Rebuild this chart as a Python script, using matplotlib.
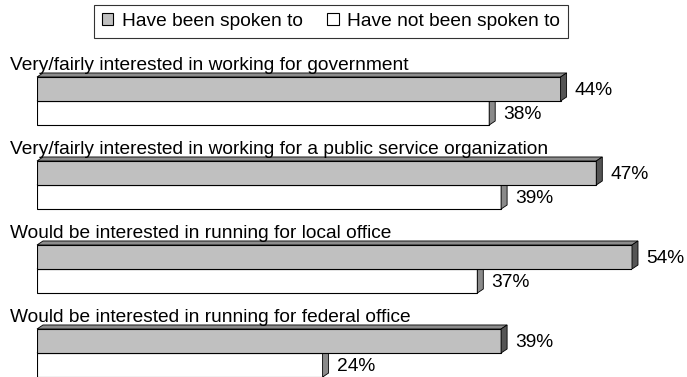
import matplotlib
matplotlib.use("Agg")
import matplotlib.pyplot as plt
from matplotlib.patches import Patch, Polygon

plt.rcParams['font.family'] = ['Liberation Sans', 'DejaVu Sans']
plt.rcParams['font.size'] = 13.8

questions = [
    "Very/fairly interested in working for government",
    "Very/fairly interested in working for a public service organization",
    "Would be interested in running for local office",
    "Would be interested in running for federal office",
]
spoken_to = [44, 47, 54, 39]
not_spoken_to = [38, 39, 37, 24]
series_names = ["Have been spoken to", "Have not been spoken to"]

x_max = 50          # axis stops at 50%, longer bars get cut off
bar_h = 0.286
depth_px = (6, 4)   # 3-D extrusion of each bar, in pixels

fig = plt.figure(figsize=(6.87, 3.77), dpi=100)
ax = fig.add_axes([37 / 687, 0, 595 / 687, 1])
ax.set_xlim(0, x_max)
ax.set_ylim((377 - 101) / 84, -101 / 84)
ax.axis("off")

# convert the pixel depth into data units
x_per_px = x_max / 595
y_per_px = 1 / 84
dx = depth_px[0] * x_per_px
dy = depth_px[1] * y_per_px


def bar3d(y_top, value, front, top, side):
    ax.barh(y_top, value, height=bar_h, align="edge", color=front,
            edgecolor="black", linewidth=0.8, zorder=3)
    end = min(value, x_max)
    y_bot = y_top + bar_h
    ax.add_patch(Polygon([(0, y_top), (end, y_top), (end + dx, y_top - dy), (dx, y_top - dy)],
                         closed=True, facecolor=top, edgecolor="black", linewidth=0.6,
                         zorder=3, clip_on=False))
    ax.add_patch(Polygon([(end, y_top), (end + dx, y_top - dy), (end + dx, y_bot - dy), (end, y_bot)],
                         closed=True, facecolor=side, edgecolor="black", linewidth=0.6,
                         zorder=3, clip_on=False))
    ax.annotate(f"{value}%", xy=(end, y_top + bar_h / 2), xytext=(14, -6),
                textcoords="offset pixels", va="baseline", ha="left",
                annotation_clip=False)


for i, q in enumerate(questions):
    # white bar first so the grey bar above covers its top face
    bar3d(i, not_spoken_to[i], "white", "#e0e0e0", "#8a8a8a")
    bar3d(i - bar_h, spoken_to[i], "#c0c0c0", "#8c8c8c", "#555555")
    ax.text(-27 * x_per_px, i - 31.5 * y_per_px, q, va="baseline", ha="left",
            clip_on=False)

handles = [Patch(facecolor="#c0c0c0", edgecolor="black", linewidth=0.8),
           Patch(facecolor="white", edgecolor="black", linewidth=0.8)]
leg = fig.legend(handles, series_names, ncol=2, loc="center",
                 bbox_to_anchor=(331 / 687, 1 - 21.5 / 377), frameon=True, fancybox=False,
                 handlelength=0.62, handleheight=0.62, handletextpad=0.42,
                 columnspacing=1.3, borderpad=0.42, borderaxespad=0)
leg.get_frame().set_edgecolor("black")
leg.get_frame().set_linewidth(0.8)

fig.savefig("out.png", dpi=100)
